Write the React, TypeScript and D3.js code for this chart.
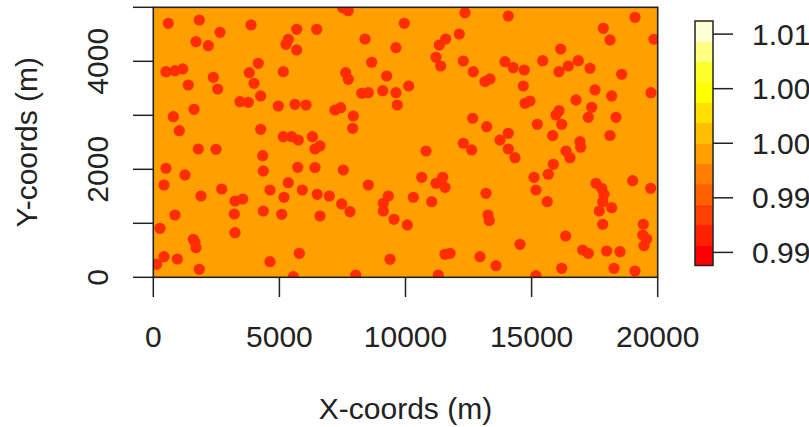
import React, { useEffect, useRef } from 'react';
import * as d3 from 'd3';

// sample locations (metres)
const pointX = [
  595, 1824, 2645, 3874, 5686, 6479, 1693, 2181, 5353, 5262, 5686, 504, 860, 1166, 1388, 2379, 2553, 4163, 3806, 3993,
  5155, 4258, 3438, 3767, 4956, 5618, 6055, 1614, 793, 1031, 4258, 5155, 5488, 5749, 6312, 1784, 2486, 4338, 6411, 504,
  1257, 424, 4362, 5725, 6411, 5353, 4627, 5908, 1891, 2712, 3239, 3545, 5182, 6500, 4362, 5091, 3212, 860, 6610, 266,
  3239, 1586, 1653, 1693, 424, 952, 135, 4627, 5789, 1824, 5551, 7510, 7732, 12359, 9952, 8394, 9623, 12133, 11594, 11340,
  8660, 11209, 11395, 12292, 12688, 7629, 7732, 9254, 8263, 8525, 9096, 9623, 10127, 9675, 7204, 7430, 7930, 7906, 12664, 13219,
  6610, 12292, 14076, 19099, 17843, 18108, 19853, 16153, 13945, 14274, 14710, 15440, 16086, 16455, 16851, 17315, 18572, 13152, 13350, 14671,
  17513, 19734, 18176, 16760, 14738, 14936, 17383, 16086, 15967, 17248, 18346, 16193, 15226, 14076, 13747, 15836, 18108, 16919, 7534, 10813,
  12624, 10642, 11209, 11475, 11566, 8525, 6978, 7470, 7799, 9318, 9120, 9120, 10309, 11039, 13192, 9544, 10071, 9385, 11566, 11764,
  12954, 8025, 11300, 14076, 14341, 16364, 16522, 16946, 15860, 15662, 15095, 15174, 15622, 13271, 13322, 17553, 17779, 17870, 17819, 17684,
  18176, 19008, 19722, 17819, 19429, 19405, 19563, 19456, 16352, 14540, 17026, 17248, 17977, 18505, 13588, 16193, 18267, 19099, 15174,
];
const pointY = [
  4704, 4765, 4537, 4673, 4593, 4593, 4363, 4289, 4408, 4315, 4210, 3808, 3826, 3858, 3561, 3704, 3487, 3963, 3789, 3593,
  3808, 3358, 3252, 3241, 3172, 3204, 3191, 3111, 2974, 2715, 2741, 2604, 2604, 2543, 2604, 2376, 2371, 2252, 2376, 2019,
  1895, 1709, 1969, 2037, 2033, 1752, 1617, 1617, 1506, 1635, 1413, 1450, 1482, 1537, 1228, 1167, 1172, 1154, 1135, 907,
  826, 704, 648, 548, 382, 339, 241, 289, 444, 148, 11, 4990, 4937, 4900, 4704, 4413, 4252, 4506, 4413, 4302,
  3982, 4074, 3913, 4006, 3808, 3789, 3667, 3728, 3408, 3419, 3456, 3419, 3543, 3191, 3098, 3141, 2987, 2759, 2945, 2789,
  2432, 2482, 4839, 4815, 4611, 4395, 4408, 4228, 3993, 3882, 3839, 4011, 3808, 3913, 4011, 3871, 3760, 3623, 3673, 3543,
  3469, 3419, 3358, 3284, 3222, 3265, 3148, 3085, 3006, 2963, 2963, 2834, 2834, 2667, 2543, 2626, 2626, 2511, 1987, 2339,
  2358, 1852, 1741, 1852, 1667, 1709, 1506, 1358, 1215, 1506, 1370, 1228, 1482, 1400, 1556, 1074, 969, 333, 426, 444,
  382, 43, 43, 2376, 2215, 2339, 2215, 2408, 2093, 1908, 1852, 1617, 1400, 1154, 1052, 1741, 1648, 1537, 1400, 1228,
  1289, 1789, 1648, 982, 982, 783, 709, 585, 765, 611, 506, 444, 487, 474, 215, 167, 167, 117, 30,
];

const xTicks = [0, 5000, 10000, 15000, 20000];
const yTicks = [0, 1000, 2000, 3000, 4000, 5000];
const yTickLabels = [0, 2000, 4000];

// heat.colors(12), low to high
const heatColors = [
  '#FF0000', '#FF2000', '#FF4000', '#FF6000', '#FF8000', '#FF9F00',
  '#FFBF00', '#FFDF00', '#FFFF00', '#FFFF2A', '#FFFF80', '#FFFFD5',
];
const legendTicks = [0.99, 0.995, 1.0, 1.005, 1.01];
const legendLabels = ['0.990', '0.995', '1.000', '1.005', '1.010'];
const surfaceValue = 1.0;

export default function App() {
  const ref = useRef<SVGSVGElement>(null);

  useEffect(() => {
    const svg = d3.select(ref.current);
    svg.selectAll('*').remove();
    const font = '"Liberation Sans", Arial, Helvetica, sans-serif';
    const ink = '#222';

    const x = d3.scaleLinear().domain([0, 20000]).range([153.3, 657.7]);
    const y = d3.scaleLinear().domain([0, 5000]).range([277.3, 7.3]);

    // colour bar scale
    const zDomain = [0.9888, 1.0112];
    const zy = d3.scaleLinear().domain(zDomain).range([265.5, 21]);
    const binW = (zDomain[1] - zDomain[0]) / heatColors.length;
    const colorOf = (v: number) =>
      heatColors[Math.max(0, Math.min(heatColors.length - 1, Math.floor((v - zDomain[0]) / binW)))];

    const defs = svg.append('defs');
    defs.append('clipPath').attr('id', 'plotclip')
      .append('rect')
      .attr('x', x(0)).attr('y', y(5000))
      .attr('width', x(20000) - x(0)).attr('height', y(0) - y(5000));

    // surface
    svg.append('rect')
      .attr('x', x(0)).attr('y', y(5000))
      .attr('width', x(20000) - x(0)).attr('height', y(0) - y(5000))
      .attr('fill', colorOf(surfaceValue));

    // points
    svg.append('g').attr('clip-path', 'url(#plotclip)')
      .selectAll('circle')
      .data(pointX.map((px, i) => [px, pointY[i]]))
      .enter()
      .append('circle')
      .attr('cx', (d) => x(d[0]))
      .attr('cy', (d) => y(d[1]))
      .attr('r', 5.6)
      .attr('fill', '#FF2D00');

    // box
    svg.append('rect')
      .attr('x', x(0)).attr('y', y(5000))
      .attr('width', x(20000) - x(0)).attr('height', y(0) - y(5000))
      .attr('fill', 'none').attr('stroke', ink).attr('stroke-width', 1.6);

    // x axis
    const gx = svg.append('g');
    gx.selectAll('line').data(xTicks).enter().append('line')
      .attr('x1', (d) => x(d)).attr('x2', (d) => x(d))
      .attr('y1', y(0)).attr('y2', 297)
      .attr('stroke', ink).attr('stroke-width', 1.5);
    gx.selectAll('text').data(xTicks).enter().append('text')
      .attr('x', (d) => x(d)).attr('y', 347)
      .attr('text-anchor', 'middle')
      .attr('font-family', font).attr('font-size', 30).attr('fill', ink)
      .text((d) => String(d));

    // y axis
    const gy = svg.append('g');
    gy.selectAll('line').data(yTicks).enter().append('line')
      .attr('x1', 133).attr('x2', x(0))
      .attr('y1', (d) => y(d)).attr('y2', (d) => y(d))
      .attr('stroke', ink).attr('stroke-width', 1.5);
    gy.selectAll('text').data(yTickLabels).enter().append('text')
      .attr('transform', (d) => `translate(108,${y(d)}) rotate(-90)`)
      .attr('text-anchor', 'middle')
      .attr('font-family', font).attr('font-size', 30).attr('fill', ink)
      .text((d) => String(d));

    // titles
    svg.append('text')
      .attr('x', x(10000)).attr('y', 419)
      .attr('text-anchor', 'middle')
      .attr('font-family', font).attr('font-size', 30).attr('fill', ink)
      .text('X-coords (m)');
    svg.append('text')
      .attr('transform', `translate(37,${y(2500)}) rotate(-90)`)
      .attr('text-anchor', 'middle')
      .attr('font-family', font).attr('font-size', 30).attr('fill', ink)
      .text('Y-coords (m)');

    // legend bar
    const lg = svg.append('g');
    lg.selectAll('rect').data(heatColors).enter().append('rect')
      .attr('x', 695)
      .attr('y', (d, i) => zy(zDomain[0] + (i + 1) * binW))
      .attr('width', 18)
      .attr('height', (d, i) => zy(zDomain[0] + i * binW) - zy(zDomain[0] + (i + 1) * binW) + 0.3)
      .attr('fill', (d) => d);
    lg.append('rect')
      .attr('x', 695).attr('y', zy(zDomain[1]))
      .attr('width', 18).attr('height', zy(zDomain[0]) - zy(zDomain[1]))
      .attr('fill', 'none').attr('stroke', ink).attr('stroke-width', 1.5);
    lg.selectAll('line').data(legendTicks).enter().append('line')
      .attr('x1', 713).attr('x2', 733)
      .attr('y1', (d) => zy(d)).attr('y2', (d) => zy(d))
      .attr('stroke', ink).attr('stroke-width', 1.5);
    lg.selectAll('text').data(legendTicks).enter().append('text')
      .attr('x', 752).attr('y', (d) => zy(d) + 10.5)
      .attr('font-family', font).attr('font-size', 30).attr('fill', ink)
      .text((d, i) => legendLabels[i]);
  });

  return (
    <svg
      ref={ref}
      width={809}
      height={427}
      style={{ position: 'absolute', left: 0, top: 0, background: '#fff' }}
    ></svg>
  );
}
